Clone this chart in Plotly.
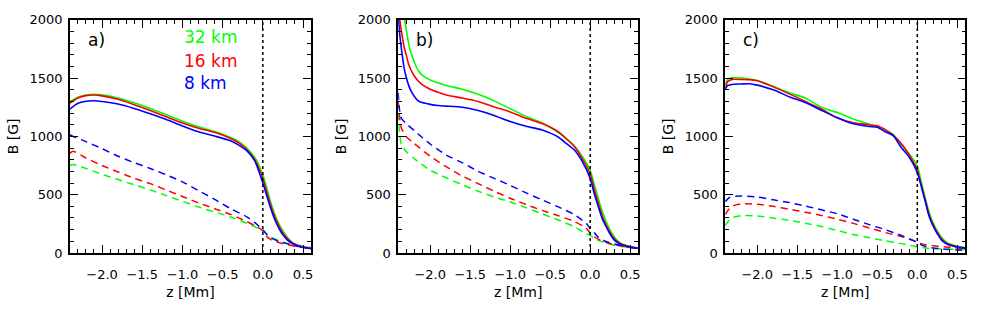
import plotly.graph_objects as go

# ---------------- data ----------------
res_labels = ["32 km", "16 km", "8 km"]
res_colors = ["#00ff00", "#ff0000", "#0000ff"]

# panel a
z_a = [-2.4, -2.3, -2.2, -2.1, -2.0, -1.8, -1.6, -1.4, -1.2, -1.0, -0.8, -0.6, -0.4, -0.3,
       -0.2, -0.1, 0.0, 0.05, 0.1, 0.15, 0.2, 0.25, 0.3, 0.35, 0.4, 0.5, 0.6]
a_solid_32 = [1298, 1335, 1355, 1362, 1357, 1330, 1288, 1240, 1185, 1130, 1082, 1042, 990, 955,
              900, 820, 672, 555, 430, 330, 250, 188, 140, 100, 78, 52, 38]
a_solid_16 = [1285, 1330, 1350, 1355, 1348, 1318, 1272, 1222, 1168, 1115, 1070, 1035, 982, 945,
              888, 800, 637, 522, 405, 305, 230, 170, 127, 95, 74, 50, 38]
a_solid_8 = [1235, 1285, 1302, 1306, 1300, 1278, 1240, 1195, 1145, 1090, 1040, 1003, 962, 925,
             878, 790, 600, 488, 380, 285, 212, 155, 115, 88, 70, 50, 38]

z_ad = [-2.4, -2.36, -2.2, -2.0, -1.8, -1.6, -1.4, -1.2, -1.0, -0.8, -0.6, -0.4, -0.2, -0.1,
        0.0, 0.05, 0.1, 0.2, 0.3, 0.4, 0.5, 0.6]
a_dash_32 = [750, 760, 725, 675, 630, 585, 541, 492, 443, 395, 352, 309, 255, 225,
             190, 159, 135, 105, 82, 66, 55, 45]
a_dash_16 = [855, 872, 815, 750, 695, 640, 595, 540, 485, 430, 380, 330, 270, 235,
             190, 140, 115, 90, 72, 58, 46, 38]
a_dash_8 = [1012, 1000, 955, 895, 830, 775, 725, 670, 610, 535, 460, 380, 310, 260,
            200, 159, 130, 100, 80, 62, 48, 38]

# panel b
z_b = [-2.4, -2.38, -2.35, -2.32, -2.3, -2.27, -2.24, -2.2, -2.15, -2.1, -2.0, -1.9, -1.8,
       -1.6, -1.4, -1.2, -1.0, -0.8, -0.6, -0.4, -0.3, -0.2, -0.1, 0.0, 0.05, 0.1, 0.15,
       0.2, 0.25, 0.3, 0.35, 0.4, 0.5, 0.6]
b_solid_32 = [2500, 2350, 2150, 2010, 1920, 1800, 1715, 1640, 1565, 1525, 1484, 1458, 1437,
              1405, 1362, 1305, 1238, 1172, 1115, 1035, 980, 920, 830, 710, 590, 470, 360,
              270, 195, 140, 100, 78, 55, 42]
b_solid_16 = [2150, 2000, 1860, 1750, 1700, 1620, 1570, 1520, 1475, 1445, 1405, 1378, 1355,
              1330, 1300, 1253, 1210, 1155, 1110, 1040, 982, 915, 810, 680, 550, 430, 320,
              240, 175, 125, 92, 72, 52, 40]
b_solid_8 = [2050, 1870, 1700, 1566, 1510, 1440, 1390, 1345, 1305, 1290, 1275, 1265, 1260,
             1250, 1222, 1180, 1128, 1087, 1055, 995, 940, 885, 785, 640, 510, 400, 295,
             225, 160, 112, 85, 68, 50, 40]

z_bd = [-2.4, -2.385, -2.36, -2.3, -2.2, -2.0, -1.8, -1.6, -1.4, -1.2, -1.0, -0.8, -0.6,
        -0.4, -0.2, -0.05, 0.0, 0.05, 0.1, 0.2, 0.3, 0.4, 0.5, 0.6]
b_dash_32 = [1200, 1050, 930, 870, 810, 710, 645, 585, 530, 480, 438, 388, 335,
             283, 225, 165, 150, 125, 108, 85, 66, 55, 46, 40]
b_dash_16 = [1300, 1180, 1070, 1000, 940, 830, 740, 660, 595, 530, 470, 415, 365,
             320, 270, 213, 170, 140, 118, 90, 72, 58, 46, 38]
b_dash_8 = [1374, 1238, 1156, 1110, 1050, 935, 840, 775, 700, 640, 580, 515, 455,
            395, 330, 254, 210, 175, 135, 98, 78, 62, 48, 38]

# panel c
z_c = [-2.4, -2.37, -2.3, -2.2, -2.1, -2.0, -1.8, -1.6, -1.4, -1.2, -1.0, -0.8, -0.6, -0.5,
       -0.4, -0.3, -0.2, -0.1, 0.0, 0.05, 0.1, 0.15, 0.2, 0.25, 0.3, 0.35, 0.4, 0.5, 0.6]
c_solid_32 = [1443, 1490, 1505, 1500, 1493, 1480, 1430, 1375, 1330, 1250, 1205, 1150, 1105, 1080,
              1055, 1015, 930, 850, 746, 610, 470, 345, 254, 190, 138, 100, 80, 58, 48]
c_solid_16 = [1402, 1470, 1490, 1489, 1487, 1478, 1425, 1365, 1300, 1235, 1160, 1117, 1100, 1092,
              1058, 1010, 940, 840, 712, 580, 450, 320, 240, 175, 125, 90, 72, 52, 42]
c_solid_8 = [1407, 1435, 1448, 1450, 1452, 1440, 1400, 1340, 1290, 1225, 1160, 1108, 1085, 1078,
             1040, 1005, 905, 820, 691, 570, 440, 310, 227, 165, 112, 85, 68, 50, 40]

z_cd = [-2.4, -2.35, -2.3, -2.2, -2.0, -1.8, -1.6, -1.4, -1.2, -1.0, -0.8, -0.6, -0.4, -0.2,
        -0.1, 0.0, 0.05, 0.1, 0.2, 0.3, 0.4, 0.5, 0.6]
c_dash_32 = [235, 280, 305, 320, 318, 300, 280, 255, 227, 193, 159, 130, 104, 80,
             65, 52, 47, 42, 37, 34, 32, 30, 29]
c_dash_16 = [330, 380, 405, 422, 418, 400, 375, 350, 322, 290, 254, 215, 175, 140,
             120, 95, 80, 70, 62, 55, 48, 42, 38]
c_dash_8 = [440, 475, 485, 488, 480, 456, 432, 403, 370, 336, 290, 243, 200, 150,
            120, 90, 70, 55, 42, 35, 30, 26, 22]

panel_labels = ["a)", "b)", "c)"]
x_tickvals = [-2.0, -1.5, -1.0, -0.5, 0.0, 0.5]
x_ticktext = ["\u22122.0", "\u22121.5", "\u22121.0", "\u22120.5", "0.0", "0.5"]
y_tickvals = [0, 500, 1000, 1500, 2000]
y_ticktext = ["0", "500", "1000", "1500", "2000"]

panels = [
    (z_a, [a_solid_32, a_solid_16, a_solid_8], z_ad, [a_dash_32, a_dash_16, a_dash_8]),
    (z_b, [b_solid_32, b_solid_16, b_solid_8], z_bd, [b_dash_32, b_dash_16, b_dash_8]),
    (z_c, [c_solid_32, c_solid_16, c_solid_8], z_cd, [c_dash_32, c_dash_16, c_dash_8]),
]

# ---------------- figure ----------------
W, H = 984, 314
FONT = "DejaVu Sans"
x_domains = [[70 / W, 311.7 / W], [399 / W, 639.5 / W], [726.7 / W, 967.3 / W]]
y_domain = [1 - 258.3 / H, 1 - 13.5 / H]

fig = go.Figure()
for i, (zs, solids, zd, dashes) in enumerate(panels):
    xa = "x" if i == 0 else f"x{i+1}"
    ya = "y" if i == 0 else f"y{i+1}"
    for vals, col in zip(dashes, res_colors):
        fig.add_trace(go.Scatter(x=zd, y=vals, mode="lines", xaxis=xa, yaxis=ya,
                                 line=dict(color=col, width=1.5, dash="7px,5px", shape="spline", smoothing=0.6),
                                 showlegend=False, hoverinfo="skip"))
    for vals, col in zip(solids, res_colors):
        fig.add_trace(go.Scatter(x=zs, y=vals, mode="lines", xaxis=xa, yaxis=ya,
                                 line=dict(color=col, width=1.6, shape="spline", smoothing=0.6),
                                 showlegend=False, hoverinfo="skip"))

layout = dict(width=W, height=H, autosize=False, margin=dict(l=0, r=0, t=0, b=0),
              paper_bgcolor="white", plot_bgcolor="white", showlegend=False,
              font=dict(family=FONT, color="black", size=13))

for i in range(3):
    xk = "xaxis" if i == 0 else f"xaxis{i+1}"
    yk = "yaxis" if i == 0 else f"yaxis{i+1}"
    ya = "y" if i == 0 else f"y{i+1}"
    xa = "x" if i == 0 else f"x{i+1}"
    layout[xk] = dict(domain=x_domains[i], anchor=ya, range=[-2.4, 0.6],
                      showgrid=False, zeroline=False, showline=True, linecolor="black",
                      linewidth=1.5, mirror="ticks", ticks="inside", ticklen=8,
                      tickwidth=1.2, tickcolor="black", tickmode="array",
                      tickvals=x_tickvals, ticktext=x_ticktext,
                      tickfont=dict(family=FONT, size=13), ticklabelstandoff=9,
                      minor=dict(ticks="inside", ticklen=4, tickwidth=1.2, tickcolor="black",
                                 tickmode="linear", tick0=0, dtick=0.1, showgrid=False),
                      title=dict(text="z [Mm]", font=dict(family=FONT, size=14), standoff=6))
    layout[yk] = dict(domain=y_domain, anchor=xa, range=[0, 2000],
                      showgrid=False, zeroline=False, showline=True, linecolor="black",
                      linewidth=1.5, mirror="ticks", ticks="inside", ticklen=8,
                      tickwidth=1.2, tickcolor="black", tickmode="array",
                      tickvals=y_tickvals, ticktext=y_ticktext,
                      tickfont=dict(family=FONT, size=13), ticklabelstandoff=3,
                      minor=dict(ticks="inside", ticklen=4, tickwidth=1.2, tickcolor="black",
                                 tickmode="linear", tick0=0, dtick=100, showgrid=False),
                      title=dict(text="B [G]", font=dict(family=FONT, size=14), standoff=8))

fig.update_layout(**layout)

for i in range(3):
    xa = "x" if i == 0 else f"x{i+1}"
    ya = "y" if i == 0 else f"y{i+1}"
    fig.add_shape(type="line", xref=xa, yref=f"{ya} domain", x0=0, x1=0, y0=0, y1=1,
                  line=dict(color="black", width=1.5, dash="dot"))
    fig.add_annotation(xref=xa, yref=ya, x=-2.2, y=1825, text=panel_labels[i], showarrow=False,
                       xanchor="left", yanchor="middle", font=dict(family=FONT, size=17, color="black"))

legend_y = [1855, 1650, 1455]
for lab, col, yv in zip(res_labels, res_colors, legend_y):
    fig.add_annotation(xref="x", yref="y", x=-1.01, y=yv, text=lab, showarrow=False,
                       xanchor="left", yanchor="middle", font=dict(family=FONT, size=17, color=col))

fig.write_html("out.html", config={"displayModeBar": False},
               post_script="document.body.style.margin='0px';document.body.style.overflow='hidden';")
